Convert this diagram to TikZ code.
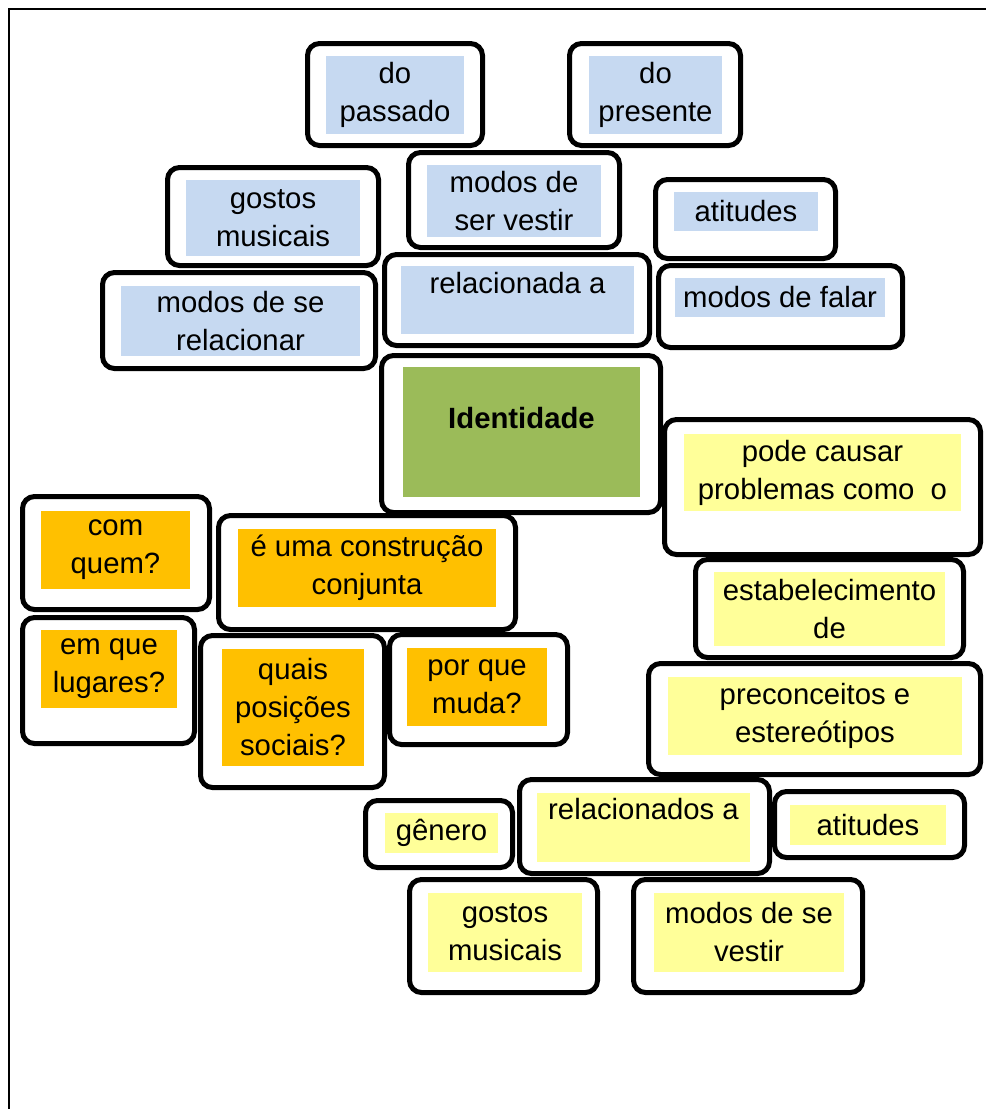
\documentclass[tikz,border=0pt]{standalone}
\usepackage{fontspec}
\setmainfont{Liberation Sans}
\definecolor{mapblue}{HTML}{C6D9F1}
\definecolor{mapgreen}{HTML}{9BBB59}
\definecolor{maporange}{HTML}{FFC000}
\definecolor{mapyellow}{HTML}{FFFF99}

\begin{document}
\begin{tikzpicture}[x=1pt,y=-1pt,font=\fontsize{29.3}{38}\selectfont,
 box/.style={draw,line width=5pt,rounded corners=12pt,fill=white,inner sep=0pt},
 tblue/.style={fill=mapblue,inner sep=0pt,align=center},
 tgreen/.style={fill=mapgreen,inner sep=0pt,align=center,font=\fontsize{29.3}{38}\selectfont\bfseries},
 torange/.style={fill=maporange,inner sep=0pt,align=center},
 tyellow/.style={fill=mapyellow,inner sep=0pt,align=center}]
\useasboundingbox (0,0) rectangle (986,1109);
\draw[line width=2pt] (9,1109) -- (9,9) -- (986,9);

% upper part: relacionada a
\node[box,minimum width=175pt,minimum height=102pt] (passado) at (395,94.5) {};
\node[tblue,minimum width=138pt,minimum height=78pt] (passadoT) at (395,95) {do\\passado};
\node[box,minimum width=171pt,minimum height=102pt] (presente) at (655,94.5) {};
\node[tblue,minimum width=133pt,minimum height=78pt] (presenteT) at (655.5,95) {do\\presente};
\node[box,minimum width=211pt,minimum height=98pt] (gostosA) at (273,216.5) {};
\node[tblue,minimum width=174pt,minimum height=76pt] (gostosAT) at (273,218) {gostos\\musicais};
\node[box,minimum width=211pt,minimum height=95pt] (vestirA) at (514,200) {};
\node[tblue,minimum width=174pt,minimum height=72pt] (vestirAT) at (514,201) {modos de\\ser vestir};
\node[box,minimum width=180pt,minimum height=79pt] (atitudesA) at (745.5,219) {};
\node[tblue,minimum width=144pt,minimum height=39pt] (atitudesAT) at (746,211.5) {atitudes};
\node[box,minimum width=273pt,minimum height=96pt] (relacionar) at (239,320.5) {};
\node[tblue,minimum width=239pt,minimum height=70pt] (relacionarT) at (240.5,321) {modos de se\\relacionar};
\node[box,minimum width=265pt,minimum height=91pt] (relA) at (517,300) {};
\node[tblue,minimum width=233pt,minimum height=68pt,text depth=35pt] (relAT) at (517.5,300) {relacionada a};
\node[box,minimum width=244pt,minimum height=82pt] (falar) at (780.5,306.5) {};
\node[tblue,minimum width=210pt,minimum height=39pt] (falarT) at (780,297.5) {modos de falar};

% centre
\node[box,minimum width=279pt,minimum height=157pt] (ident) at (521,434) {};
\node[tgreen,minimum width=237pt,minimum height=130pt,text depth=28pt] (identT) at (521.5,432) {Identidade};

% right part: problemas
\node[box,minimum width=316pt,minimum height=135pt] (causar) at (822.5,487) {};
\node[tyellow,minimum width=277pt,minimum height=77pt] (causarT) at (822.5,472.5) {pode causar\\problemas como~ o};
\node[box,minimum width=268pt,minimum height=98pt] (estab) at (829.5,608.5) {};
\node[tyellow,minimum width=231pt,minimum height=74pt] (estabT) at (829.5,609) {estabelecimento\\de};
\node[box,minimum width=332pt,minimum height=111pt] (precon) at (814.5,719) {};
\node[tyellow,minimum width=294pt,minimum height=78pt] (preconT) at (815,716) {preconceitos e\\estereótipos};

% left part: construcao
\node[box,minimum width=187pt,minimum height=113pt] (quem) at (116,553) {};
\node[torange,minimum width=149pt,minimum height=78pt] (quemT) at (115.5,550) {com\\quem?};
\node[box,minimum width=297pt,minimum height=114pt] (constr) at (367,572.5) {};
\node[torange,minimum width=258pt,minimum height=78pt] (constrT) at (367,568) {é uma construção\\conjunta};
\node[box,minimum width=172pt,minimum height=126pt] (lugares) at (108.5,680.5) {};
\node[torange,minimum width=136pt,minimum height=78pt] (lugaresT) at (109,669) {em que\\lugares?};
\node[box,minimum width=184pt,minimum height=152pt] (posicoes) at (292.5,711.5) {};
\node[torange,minimum width=142pt,minimum height=117pt] (posicoesT) at (293,707.5) {quais\\posições\\sociais?};
\node[box,minimum width=178pt,minimum height=110pt] (muda) at (478.5,689.5) {};
\node[torange,minimum width=140pt,minimum height=78pt] (mudaT) at (477,687) {por que\\muda?};

% bottom part: relacionados a
\node[box,minimum width=147pt,minimum height=67pt] (genero) at (439,834) {};
\node[tyellow,minimum width=113pt,minimum height=40pt] (generoT) at (441.5,833) {gênero};
\node[box,minimum width=250pt,minimum height=94pt] (relB) at (644.5,826.5) {};
\node[tyellow,minimum width=213pt,minimum height=69pt,text depth=38pt] (relBT) at (643.5,827.5) {relacionados a};
\node[box,minimum width=190pt,minimum height=66pt] (atitudesB) at (869.5,824.5) {};
\node[tyellow,minimum width=156pt,minimum height=40pt] (atitudesBT) at (868,825) {atitudes};
\node[box,minimum width=188pt,minimum height=113pt] (gostosB) at (503.5,936) {};
\node[tyellow,minimum width=154pt,minimum height=79pt] (gostosBT) at (505,932.5) {gostos\\musicais};
\node[box,minimum width=229pt,minimum height=113pt] (vestirB) at (748,936) {};
\node[tyellow,minimum width=190pt,minimum height=79pt] (vestirBT) at (749,932.5) {modos de se\\vestir};
\end{tikzpicture}
\end{document}
